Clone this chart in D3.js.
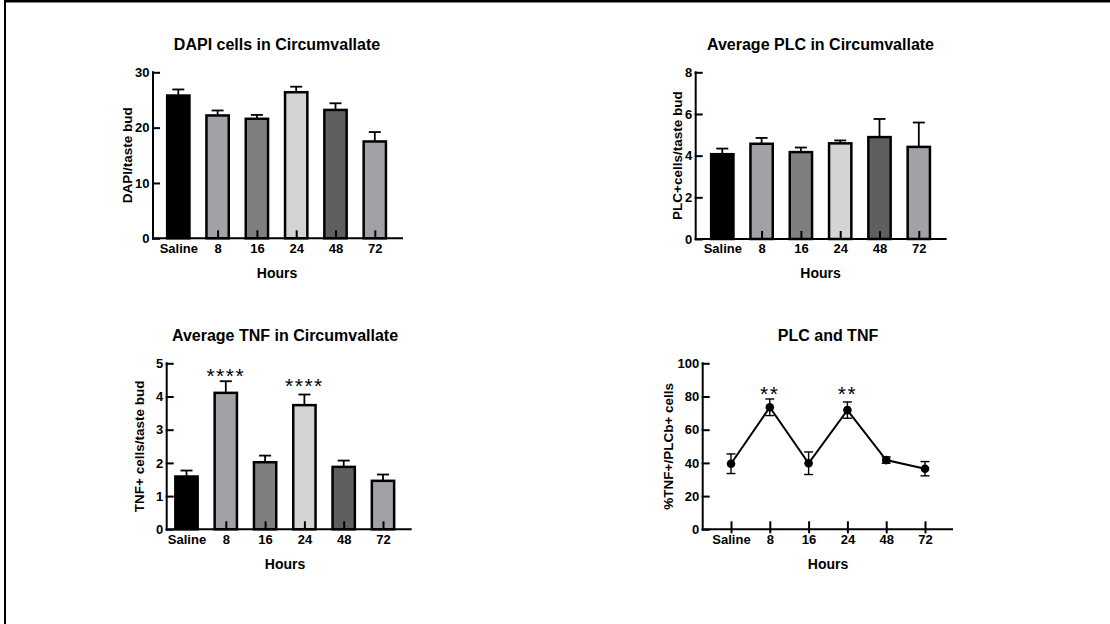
<!DOCTYPE html>
<html>
<head>
<meta charset="utf-8">
<script src="https://cdn.jsdelivr.net/npm/d3@7/dist/d3.min.js"></script>
<style>
  html, body { margin: 0; padding: 0; background: #fff; }
  svg { display: block; }
  text { font-family: "Liberation Sans", Arial, Helvetica, sans-serif; fill: #000; }
</style>
</head>
<body>
<svg id="chart" width="1110" height="624"></svg>
<script>
// ---------- data ----------
const categories = ["Saline", "8", "16", "24", "48", "72"];
const barColors = ["#000000", "#a1a1a6", "#7f7f7f", "#d4d4d4", "#5f5f5f", "#a1a1a6"];

const dapiMean = [25.8, 22.2, 21.6, 26.4, 23.2, 17.5];
const dapiErr  = [1.1, 0.9, 0.7, 1.0, 1.2, 1.7];
const dapiTicks = [0, 10, 20, 30];

const plcMean = [4.07, 4.57, 4.17, 4.59, 4.89, 4.42];
const plcErr  = [0.27, 0.28, 0.22, 0.14, 0.87, 1.17];
const plcTicks = [0, 2, 4, 6, 8];

const tnfMean = [1.59, 4.11, 2.02, 3.74, 1.88, 1.46];
const tnfErr  = [0.18, 0.35, 0.20, 0.32, 0.19, 0.19];
const tnfTicks = [0, 1, 2, 3, 4, 5];
const tnfStars = [{cat: "8", label: "****", y: 4.62}, {cat: "24", label: "****", y: 4.33}];

const ratioMean = [39.5, 73.5, 39.8, 71.8, 41.7, 36.5];
const ratioErr  = [5.9, 5.0, 6.8, 4.9, 1.9, 4.3];
const ratioTicks = [0, 20, 40, 60, 80, 100];
const ratioStars = [{cat: "8", label: "**", y: 82}, {cat: "24", label: "**", y: 82}];

// ---------- drawing ----------
const svg = d3.select("#chart");
const FONT = '"Liberation Sans", Arial, sans-serif';

// frame (top and left rules)
svg.append("line").attr("x1", 4).attr("x2", 1110).attr("y1", 1.3).attr("y2", 1.3)
  .attr("stroke", "#000").attr("stroke-width", 2.6);
svg.append("line").attr("x1", 5).attr("x2", 5).attr("y1", 0).attr("y2", 624)
  .attr("stroke", "#000").attr("stroke-width", 2);

function panelFrame(cfg, domainMax, ticks) {
  const g = svg.append("g");
  const x = d3.scalePoint().domain(categories)
    .range([cfg.firstX, cfg.firstX + cfg.step * (categories.length - 1)]);
  const y = d3.scaleLinear().domain([0, domainMax]).range([cfg.y0, cfg.yTop]);

  // y axis
  const yAxis = d3.axisLeft(y).tickValues(ticks).tickFormat(d3.format("d"))
    .tickSizeInner(-7).tickSizeOuter(0).tickPadding(3.5);
  const yg = g.append("g").attr("transform", `translate(${cfg.ax0},0)`).call(yAxis);
  yg.select(".domain").attr("stroke-width", 2).attr("d", `M0,${cfg.y0 + 1}V${cfg.yTop - 1}`);
  yg.selectAll(".tick line").attr("stroke-width", 2).attr("x1", -1);
  yg.selectAll(".tick text").style("font-size", "13px").style("font-weight", "bold")
    .style("font-family", FONT);

  // x axis
  const xAxis = d3.axisBottom(x).tickSizeInner(-8).tickSizeOuter(0).tickPadding(5.2);
  const xg = g.append("g").attr("transform", `translate(0,${cfg.y0})`).call(xAxis);
  xg.select(".domain").attr("stroke-width", 2).attr("d", `M${cfg.ax0 - 1},0H${cfg.ax1}`);
  xg.selectAll(".tick line").attr("stroke-width", 2);
  if (cfg.crossTicks) xg.selectAll(".tick line").attr("y1", 4).attr("y2", -8);
  xg.selectAll(".tick text").style("font-size", "13px").style("font-weight", "bold")
    .style("font-family", FONT);

  // titles
  g.append("text").attr("x", cfg.titleX).attr("y", cfg.titleY).attr("text-anchor", "middle")
    .style("font-size", "16px").style("font-weight", "bold").text(cfg.title);
  g.append("text").attr("x", cfg.titleX).attr("y", cfg.hoursY).attr("text-anchor", "middle")
    .style("font-size", "14px").style("font-weight", "bold").text("Hours");
  g.append("text")
    .attr("transform", `translate(${cfg.ylabelX},${(cfg.y0 + cfg.yTop) / 2}) rotate(-90)`)
    .attr("text-anchor", "middle")
    .style("font-size", "13.5px").style("font-weight", "bold").text(cfg.ylabel);
  return {g, x, y, xg};
}

function drawStars(g, x, y, stars) {
  g.selectAll("text.star").data(stars).join("text").attr("class", "star")
    .attr("x", d => x(d.cat)).attr("y", d => y(d.y) + 7.5)
    .attr("text-anchor", "middle").style("font-size", "21px").style("letter-spacing", "1.5px")
    .text(d => d.label);
}

function barPanel(cfg, means, errs, domainMax, ticks, stars) {
  const {g, x, y, xg} = panelFrame(cfg, domainMax, ticks);
  const data = categories.map((c, i) => ({c, v: means[i], e: errs[i], col: barColors[i]}));
  const bw = 22.3;
  const marks = g.insert("g", ":first-child");
  // error bars (upper only)
  marks.selectAll("line.err").data(data).join("line").attr("class", "err")
    .attr("x1", d => x(d.c)).attr("x2", d => x(d.c))
    .attr("y1", d => y(d.v)).attr("y2", d => y(d.v + d.e))
    .attr("stroke", "#000").attr("stroke-width", 1.8);
  marks.selectAll("line.cap").data(data).join("line").attr("class", "cap")
    .attr("x1", d => x(d.c) - 6).attr("x2", d => x(d.c) + 6)
    .attr("y1", d => y(d.v + d.e)).attr("y2", d => y(d.v + d.e))
    .attr("stroke", "#000").attr("stroke-width", 1.8);
  marks.selectAll("rect").data(data).join("rect")
    .attr("x", d => x(d.c) - bw / 2).attr("width", bw)
    .attr("y", d => y(d.v)).attr("height", d => y(0) - y(d.v))
    .attr("fill", d => d.col).attr("stroke", "#000").attr("stroke-width", 2.5);
  xg.raise();
  if (stars) drawStars(g, x, y, stars);
}

function linePanel(cfg, means, errs, domainMax, ticks, stars) {
  const {g, x, y} = panelFrame(cfg, domainMax, ticks);
  const data = categories.map((c, i) => ({c, v: means[i], e: errs[i]}));
  g.append("path").datum(data)
    .attr("d", d3.line().x(d => x(d.c)).y(d => y(d.v)))
    .attr("fill", "none").attr("stroke", "#000").attr("stroke-width", 2);
  g.selectAll("line.err").data(data).join("line").attr("class", "err")
    .attr("x1", d => x(d.c)).attr("x2", d => x(d.c))
    .attr("y1", d => y(d.v - d.e)).attr("y2", d => y(d.v + d.e))
    .attr("stroke", "#000").attr("stroke-width", 1.4);
  ["capT", "capB"].forEach((k, j) => {
    g.selectAll("line." + k).data(data).join("line").attr("class", k)
      .attr("x1", d => x(d.c) - 4.5).attr("x2", d => x(d.c) + 4.5)
      .attr("y1", d => y(j ? d.v - d.e : d.v + d.e)).attr("y2", d => y(j ? d.v - d.e : d.v + d.e))
      .attr("stroke", "#000").attr("stroke-width", 1.4);
  });
  g.selectAll("circle").data(data).join("circle")
    .attr("cx", d => x(d.c)).attr("cy", d => y(d.v)).attr("r", 4.3).attr("fill", "#000");
  drawStars(g, x, y, stars);
}

barPanel({ax0: 153, ax1: 403, y0: 238.3, yTop: 72.3, firstX: 178.3, step: 39.3,
  titleX: 277, titleY: 50, hoursY: 278, ylabelX: 132,
  title: "DAPI cells in Circumvallate", ylabel: "DAPI/taste bud"},
  dapiMean, dapiErr, 30, dapiTicks, null);

barPanel({ax0: 695.7, ax1: 946.7, y0: 239, yTop: 72.3, firstX: 722.3, step: 39.3,
  titleX: 820.5, titleY: 50, hoursY: 278, ylabelX: 682,
  title: "Average PLC in Circumvallate", ylabel: "PLC+cells/taste bud"},
  plcMean, plcErr, 8, plcTicks, null);

barPanel({ax0: 166.7, ax1: 411.7, y0: 529.3, yTop: 363.3, firstX: 186.5, step: 39.3,
  titleX: 285, titleY: 340.7, hoursY: 569, ylabelX: 144,
  title: "Average TNF in Circumvallate", ylabel: "TNF+ cells/taste bud"},
  tnfMean, tnfErr, 5, tnfTicks, tnfStars);

linePanel({ax0: 702.7, ax1: 953, y0: 529.3, yTop: 363.3, firstX: 731, step: 38.8,
  titleX: 828, titleY: 340.7, hoursY: 569, ylabelX: 673, crossTicks: true,
  title: "PLC and TNF", ylabel: "%TNF+/PLCb+ cells"},
  ratioMean, ratioErr, 100, ratioTicks, ratioStars);
</script>
</body>
</html>
